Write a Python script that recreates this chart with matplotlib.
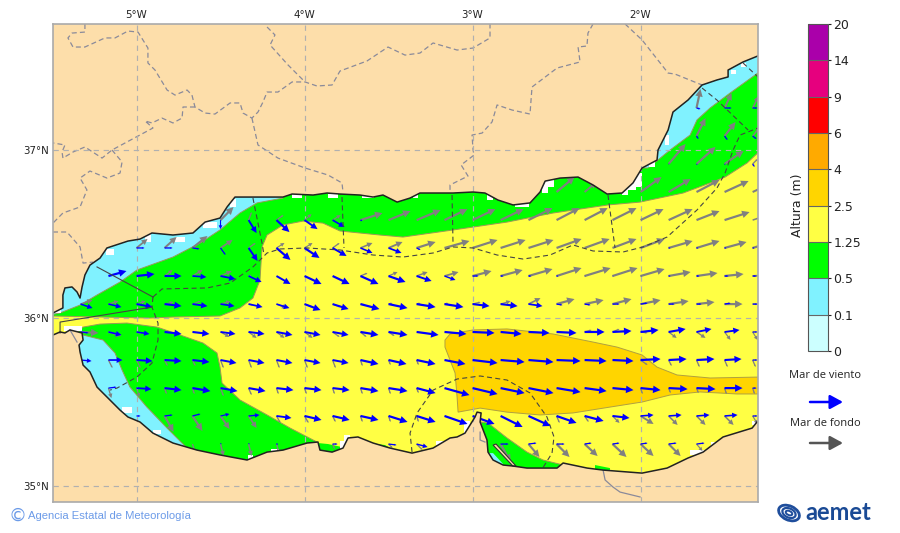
import numpy as np
import matplotlib
matplotlib.use("Agg")
import matplotlib.pyplot as plt
from matplotlib.colors import ListedColormap, BoundaryNorm
from matplotlib.cm import ScalarMappable
from matplotlib.patches import Polygon, Rectangle, Ellipse

n = float("nan")

# colour scale
height_levels = [0, 0.1, 0.5, 1.25, 2.5, 4, 6, 9, 14, 20]
height_labels = ["0", "0.1", "0.5", "1.25", "2.5", "4", "6", "9", "14", "20"]
height_colors = ["#CCFFFF", "#80F2FF", "#00FF00", "#FFFF44", "#FFD500",
                 "#FFAA00", "#FF0000", "#E6007E", "#AA00AA"]

# sea outline, lon/lat
coast_lon = [-5.497, -5.438, -5.438, -5.426, -5.384, -5.354, -5.336, -5.324, -5.307, -5.277, -5.217, -5.176, -5.051,
             -4.979, -4.908, -4.783, -4.664, -4.592, -4.503, -4.461, -4.414, -4.307, -4.128, -4.074, -3.949, -3.866,
             -3.789, -3.670, -3.592, -3.533, -3.449, -3.372, -3.313, -3.194, -3.116, -2.997, -2.926, -2.848, -2.759,
             -2.658, -2.598, -2.568, -2.479, -2.372, -2.283, -2.199, -2.110, -2.045, -1.991, -1.902, -1.896, -1.836,
             -1.807, -1.717, -1.634, -1.545, -1.479, -1.479, -1.390, -1.301, -1.259, -1.259, -1.307, -1.336, -1.509,
             -1.628, -1.717, -1.842, -1.991, -2.223, -2.318, -2.461, -2.497, -2.676, -2.759, -2.818, -2.878, -2.908,
             -2.914, -2.955, -2.949, -2.973, -2.985, -3.045, -3.092, -3.134, -3.235, -3.360, -3.491, -3.592, -3.682,
             -3.741, -3.771, -3.836, -3.908, -3.920, -3.985, -4.128, -4.223, -4.342, -4.503, -4.640, -4.783, -4.902,
             -4.979, -5.051, -5.098, -5.170, -5.235, -5.277, -5.318, -5.336, -5.342, -5.318, -5.324, -5.396, -5.426,
             -5.455, -5.497, -5.545, -5.545]
coast_lat = [36.030, 36.060, 36.137, 36.179, 36.185, 36.155, 36.119, 36.185, 36.256, 36.315, 36.357, 36.417, 36.458,
             36.470, 36.506, 36.494, 36.506, 36.571, 36.595, 36.661, 36.720, 36.720, 36.720, 36.738, 36.732, 36.744,
             36.738, 36.732, 36.720, 36.732, 36.690, 36.714, 36.744, 36.744, 36.744, 36.750, 36.744, 36.702, 36.673,
             36.685, 36.750, 36.815, 36.833, 36.839, 36.792, 36.738, 36.744, 36.804, 36.893, 36.940, 37.000, 37.119,
             37.226, 37.298, 37.387, 37.417, 37.435, 37.476, 37.524, 37.560, 37.560, 35.381, 35.381, 35.345, 35.292,
             35.202, 35.167, 35.107, 35.077, 35.095, 35.107, 35.137, 35.107, 35.107, 35.119, 35.125, 35.155, 35.202,
             35.274, 35.381, 35.435, 35.440, 35.411, 35.315, 35.292, 35.286, 35.226, 35.196, 35.226, 35.256, 35.292,
             35.286, 35.226, 35.202, 35.214, 35.262, 35.256, 35.214, 35.202, 35.155, 35.185, 35.214, 35.256, 35.315,
             35.381, 35.411, 35.452, 35.524, 35.589, 35.679, 35.720, 35.798, 35.839, 35.869, 35.911, 35.929, 35.911,
             35.917, 35.899, 35.899, 36.030]

# wave height zones, lon/lat
green_north_lon = [-5.497, -4.920, -4.783, -4.503, -4.384, -4.307, -4.265, -4.253, -4.223, -4.128, -4.009, -3.890,
                   -3.789, -3.551, -3.414, -3.116, -2.795, -2.521, -2.194, -2.003, -1.747, -1.586, -1.497, -1.366,
                   -1.271, -1.259, -5.545, -5.545]
green_north_lat = [36.012, 36.000, 36.006, 36.012, 36.060, 36.119, 36.226, 36.423, 36.494, 36.554, 36.577, 36.565,
                   36.518, 36.494, 36.482, 36.524, 36.571, 36.625, 36.673, 36.690, 36.744, 36.804, 36.839, 36.923,
                   37.012, 37.750, 37.750, 36.012]
green_south_lon = [-5.318, -5.217, -5.057, -4.878, -4.741, -4.604, -4.521, -4.503, -4.491, -4.384, -4.223, -4.086,
                   -3.926, -3.848, -5.396, -5.396]
green_south_lat = [35.946, 35.964, 35.970, 35.946, 35.899, 35.851, 35.792, 35.708, 35.613, 35.512, 35.423, 35.345,
                   35.262, 35.095, 35.095, 35.869]
green_chica_lon = [-2.949, -2.908, -2.795, -2.676, -2.581, -2.461, -2.390, -2.598, -2.777, -2.926, -2.938]
green_chica_lat = [35.381, 35.375, 35.286, 35.202, 35.155, 35.125, 35.095, 35.065, 35.095, 35.185, 35.304]
green_bit1_lon = [-3.920, -3.860, -3.777, -3.759, -3.920]
green_bit1_lat = [35.256, 35.250, 35.232, 35.185, 35.185]
green_bit2_lon = [-3.610, -3.521, -3.449, -3.610]
green_bit2_lat = [35.256, 35.244, 35.202, 35.202]
green_bit3_lon = [-2.271, -2.182, -2.182, -2.271]
green_bit3_lat = [35.125, 35.107, 35.065, 35.065]
cyan_nw_lon = [-5.545, -5.455, -5.336, -5.235, -5.098, -4.997, -4.783, -4.622, -4.503, -4.384, -4.283, -4.128,
               -4.128, -5.545]
cyan_nw_lat = [36.012, 36.030, 36.077, 36.137, 36.214, 36.286, 36.363, 36.446, 36.524, 36.625, 36.685, 36.714,
               37.000, 37.000]
cyan_ne_lon = [-2.003, -1.955, -1.824, -1.705, -1.664, -1.586, -1.467, -1.277, -1.259, -2.003]
cyan_ne_lat = [36.893, 36.893, 37.000, 37.089, 37.179, 37.250, 37.339, 37.476, 37.714, 37.714]
cyan_sw_lon = [-5.396, -5.318, -5.199, -5.128, -5.086, -5.039, -4.938, -4.818, -4.699, -4.622, -5.455, -5.455]
cyan_sw_lat = [35.899, 35.899, 35.869, 35.792, 35.691, 35.589, 35.470, 35.345, 35.226, 35.095, 35.095, 35.881]
cyan_chica_lon = [-2.908, -2.878, -2.818, -2.854, -2.896]
cyan_chica_lat = [35.196, 35.196, 35.131, 35.119, 35.155]
gold_lon = [-3.164, -3.134, -2.997, -2.795, -2.521, -2.283, -2.140, -1.991, -1.902, -1.783, -1.586, -1.277, -1.277,
            -1.426, -1.646, -1.824, -1.991, -2.182, -2.402, -2.598, -2.795, -2.955, -3.086, -3.092, -3.104, -3.134,
            -3.164]
gold_lat = [35.869, 35.905, 35.929, 35.935, 35.905, 35.857, 35.827, 35.780, 35.708, 35.661, 35.643, 35.649, 35.548,
            35.548, 35.560, 35.542, 35.500, 35.470, 35.435, 35.423, 35.440, 35.464, 35.440, 35.530, 35.673, 35.750,
            35.827]
lagoon_lon = [-2.878, -2.860, -2.741, -2.760]
lagoon_lat = [35.244, 35.250, 35.119, 35.119]

# no-data cells along the coast
white_lon = [-5.158, -4.932, -4.741, -4.563, -4.426, -4.045, -3.830, -5.057, -4.878, -4.324, -4.176, -5.378, -5.473,
             -3.622, -3.342, -2.896, -2.705, -2.551, -2.568, -2.062, -2.092, -2.021, -1.932, -1.842, -1.449, -1.390,
             -3.747, -3.771, -3.194, -3.033, -1.664, -1.319, -1.568]
white_lat = [36.393, 36.476, 36.470, 36.554, 36.685, 36.726, 36.726, 35.452, 35.321, 35.173, 35.209, 35.940, 36.036,
             36.726, 36.726, 36.726, 36.673, 36.804, 36.762, 36.792, 36.750, 36.821, 36.911, 37.060, 37.464, 37.506,
             35.286, 35.244, 35.256, 35.351, 35.202, 35.375, 35.256]
white_w = [.048, .036, .060, .083, .036, .060, .060, .060, .048, .030, .048, .107, .048, .071, .030, .036, .083, .071,
           .036, .071, .036, .060, .030, .024, .030, .030, .036, .036, .048, .036, .083, .036, .024]
white_h = [.030, .048, .030, .036, .048, .024, .024, .036, .024, .024, .018, .030, .018, .024, .024, .042, .024, .048,
           .030, .060, .030, .083, .030, .060, .024, .024, .036, .048, .024, .071, .030, .024, .018]

# forecast zone limits
zone_dashed = [
    ([-4.902, -4.848, -4.580, -4.443, -4.307, -4.223, -4.146, -3.985, -3.789, -3.592, -3.414, -3.235, -3.116, -2.997,
      -2.854, -2.699, -2.539, -2.402, -2.283, -2.104, -1.985, -1.842, -1.664, -1.545, -1.497, -1.449, -1.408, -1.301],
     [36.125, 36.173, 36.179, 36.208, 36.304, 36.387, 36.411, 36.417, 36.405, 36.375, 36.363, 36.387, 36.423, 36.417,
      36.375, 36.351, 36.375, 36.435, 36.399, 36.393, 36.423, 36.482, 36.643, 36.774, 36.863, 37.000, 37.089, 37.131]),
    ([-4.902, -4.908, -4.872, -4.872, -4.908, -4.997, -5.116, -5.158],
     [36.125, 36.065, 35.970, 35.869, 35.732, 35.649, 35.583, 35.571]),
    ([-3.360, -3.372, -3.330, -3.235, -3.092, -2.955, -2.795, -2.658, -2.557, -2.515, -2.527, -2.586],
     [35.202, 35.315, 35.435, 35.571, 35.637, 35.655, 35.631, 35.554, 35.411, 35.292, 35.196, 35.101]),
    ([-4.307, -4.253, -4.241], [36.714, 36.446, 36.375]),
    ([-3.777, -3.765], [36.720, 36.417]),
    ([-3.122, -3.116], [36.732, 36.434]),
    ([-2.194, -2.152], [36.732, 36.417]),
    ([-1.634, -1.545, -1.360], [37.369, 37.297, 37.119]),
    ([-1.390, -1.295], [37.518, 37.429]),
]
zone_solid = [
    ([-5.235, -4.902], [36.304, 36.125]),
    ([-4.908, -5.455, -5.455], [36.065, 35.976, 35.911]),
]

# province limits on land
land_dashed = [
    ([-5.307, -5.307, -5.384, -5.408, -5.378, -5.307, -5.188, -5.128, -5.051, -4.991, -4.932, -4.932, -4.890, -4.818,
      -4.771, -4.699, -4.670, -4.652, -4.592, -4.533, -4.443, -4.384, -4.366, -4.313, -4.277, -4.247, -4.223, -4.158,
      -4.074, -3.997, -3.926, -3.836, -3.789, -3.628, -3.503, -3.402, -3.313, -3.235, -3.092, -2.997, -2.896, -2.896],
     [37.750, 37.702, 37.696, 37.667, 37.613, 37.613, 37.667, 37.667, 37.708, 37.702, 37.607, 37.518, 37.476, 37.357,
      37.327, 37.357, 37.327, 37.256, 37.220, 37.214, 37.280, 37.280, 37.220, 37.190, 37.226, 37.286, 37.345, 37.345,
      37.405, 37.405, 37.381, 37.387, 37.470, 37.530, 37.613, 37.565, 37.577, 37.637, 37.595, 37.607, 37.667, 37.750]),
    ([-4.652, -4.723, -4.729, -4.783, -4.848, -4.908, -4.949, -4.902, -5.146, -5.205, -5.307, -5.378, -5.438, -5.443,
      -5.426, -5.497],
     [37.256, 37.256, 37.190, 37.161, 37.190, 37.161, 37.173, 37.131, 37.000, 36.952, 37.018, 36.988, 36.952, 36.988,
      37.030, 37.042]),
    ([-5.146, -5.086, -5.098, -5.176, -5.277, -5.336, -5.295, -5.336, -5.438, -5.497],
     [37.000, 36.929, 36.863, 36.833, 36.875, 36.833, 36.762, 36.661, 36.625, 36.565]),
    ([-5.497, -5.414, -5.336, -5.318, -5.259], [36.512, 36.512, 36.423, 36.327, 36.333]),
    ([-4.313, -4.277, -4.158, -3.997, -3.860, -3.777, -3.771],
     [37.190, 37.030, 36.952, 36.893, 36.851, 36.804, 36.750]),
    ([-4.223, -4.176, -4.205, -4.098, -3.997], [37.732, 37.685, 37.625, 37.506, 37.405]),
    ([-2.283, -2.313, -2.319, -2.372, -2.360, -2.497, -2.646, -2.658, -2.765, -2.854, -2.884, -2.943, -3.003, -2.997,
      -2.991, -3.068, -3.027, -3.134, -3.134],
     [37.750, 37.696, 37.619, 37.613, 37.524, 37.488, 37.375, 37.214, 37.238, 37.268, 37.167, 37.101, 37.089, 37.000,
      36.970, 36.911, 36.845, 36.792, 36.762]),
    ([-2.092, -1.991, -1.836, -1.795, -1.634], [37.750, 37.655, 37.458, 37.452, 37.387]),
]
land_solid = [
    ([-2.223, -2.211, -2.164, -2.122, -2.003], [35.095, 35.036, 34.994, 34.964, 34.935]),
    ([-5.396, -5.354], [35.929, 35.857]),
    ([-2.955, -2.955, -2.926], [35.321, 35.274, 35.262]),
]

# wave vectors on the 1/6 degree grid
arrow_lons = [-5.333, -5.167, -5.0, -4.833, -4.667, -4.5, -4.333, -4.167, -4.0, -3.833, -3.667, -3.5, -3.333,
              -3.167, -3.0, -2.833, -2.667, -2.5, -2.333, -2.167, -2.0, -1.833, -1.667, -1.5, -1.333]
arrow_lats = [37.25, 37.083, 36.917, 36.75, 36.583, 36.417, 36.25, 36.083, 35.917, 35.75, 35.583, 35.417, 35.25]

wind_u = [
    [n]*22 + [4, 7, 5],
    [n]*22 + [2, 3, 4],
    [n]*21 + [1, 1, 1, 2],
    [n]*25,
    [n]*5 + [0, 8, 13, 13, 12, 2] + [n]*14,
    [n, n, 8, 8, 7, 5, 9, 14, 15, 14, 12, 13, 4] + [n]*8 + [2, 2, 2, 2],
    [5, 18, 18, 17, 14, 15, 13, 14, 17, 17, 18, 17, 15, 11, 6, 3, 3, 2, 1, 1, 1, 2, 3, 4, 4],
    [12, 13, 16, 17, 15, 14, 14, 13, 16, 16, 19, 19, 19, 19, 17, 17, 14, 6, 6, 7, 7, 6, 5, 6, 5],
    [8, 13, 13, 17, 17, 15, 16, 16, 16, 16, 18, 19, 22, 22, 22, 21, 21, 20, 20, 19, 18, 17, 15, 15, 5],
    [11, 14, 16, 17, 17, 16, 16, 16, 16, 16, 18, 18, 19, 21, 25, 24, 25, 24, 22, 21, 20, 18, 18, 17, 5],
    [n, 8, 15, 17, 18, 17, 17, 17, 17, 17, 18, 19, 19, 25, 25, 24, 25, 24, 22, 21, 20, 19, 19, 18, 4],
    [n, n, 4, 8, 8, 9, 11, 15, 17, 17, 18, 19, 19, 23, 22, 22, 22, 20, 19, 17, 13, 13, 13, 13, 5],
    [n, n, n, n, n, 1, 1, 2, n, 5, n, 8, 11, n, n, 8, 8, 8, 7, 7, 7, 8, 8, n, n],
]
wind_v = [
    [n]*22 + [-1, 0, 0],
    [n]*22 + [-3, -4, -3],
    [n]*21 + [0, -1, -1, -3],
    [n]*25,
    [n]*5 + [-9, -13, -12, -9, -7, -1] + [n]*14,
    [n, n, 0, 0, -1, -7, -13, -12, -10, -8, -5, -5, -2] + [n]*8 + [0, 0, 0, 0],
    [2, 5, 2, 0, -1, -3, -6, -8, -8, -8, -8, -6, -5, -4, 0, 0, 0, 0, 0, 0, 0, 0, 0, 0, 0],
    [-4, -3, -3, -2, -2, -2, -3, -4, -6, -5, -5, -4, -3, -3, -2, -2, -2, -1, -1, 0, 1, 0, 0, 1, 0],
    [-1, -3, -2, -2, -2, -2, -2, -3, -3, -3, -3, -3, -3, -2, -1, -2, -1, -1, 0, 1, 2, 3, 3, 2, 0],
    [-1, 0, -1, -1, -2, -3, -3, -3, -3, -3, -4, -4, -4, -4, -3, -2, -2, -1, -1, -1, 1, 1, 1, 1, 0],
    [n, 1, -1, -2, -3, -3, -3, -2, -2, -2, -3, -3, -5, -7, -6, -5, -5, -4, -3, -2, -2, -1, -1, 0, 0],
    [n, n, 0, 1, 2, 2, 1, -2, -4, -4, -4, -6, -6, -8, -8, -11, -10, -7, -5, -2, 1, 1, 1, 1, 0],
    [n, n, n, n, n, 1, 1, 0, n, 0, n, -1, -3, n, n, 0, 1, 0, 1, 1, 1, 1, 1, n, n],
]
swell_u = [
    [n]*22 + [4, 7, 6],
    [n]*22 + [9, 11, 8],
    [n]*21 + [17, 19, 19, 5],
    [n]*17 + [18, 12, n, 21, 22, 23, 24, 15],
    [n]*5 + [13, 3, 7, 7, 8, 22, 22, 24, 23, 23, 23, 24, 23, 23, 24, 23, 24, 23, 25, 12],
    [n, n, 11, 12, 15, 12, 7, 8, 8, 7, 12, 14, 19, 25, 25, 25, 25, 25, 25, 24, 24, 24, 23, 22, 20],
    [n, n, n, 8, 10, 11, 3, n, n, n, 7, 9, 11, 14, 19, 22, 24, 25, 26, 25, 24, 22, 21, 19, 15],
    [12, 10, 9, 9, 8, 10, 5, 10, 8, 8, 5, 4, 4, 4, 8, 10, 12, 18, 19, 19, 20, 20, 18, 18, 8],
    [18, 13, 5, n, n, 9, 8, 8, 8, 7, 6, 6, n, n, n, n, n, n, 7, 7, 7, 8, 9, 6, 5],
    [n, 4, 4, 3, 3, 3, 3, 3, 3, 3, 2, 2, 2, n, n, n, n, n, n, n, 7, 3, 3, 3, 3],
    [n, 3, 3, 2, 2, 3, 3, 2, 2, 2, 2, 2, 2, n, n, n, n, n, n, n, 2, 2, 2, 2, 2],
    [n, n, n, 9, 10, 9, 8, 4, 4, 3, 2, 2, 2, n, n, n, n, 3, 4, 7, 13, 9, 9, 9, 5],
    [n, n, n, n, 2, 3, 3, 2, n, 2, n, 4, 6, n, n, 10, 11, 13, 13, 14, 13, 12, 6, n, n],
]
swell_v = [
    [n]*22 + [19, 15, 12],
    [n]*22 + [18, 14, 10],
    [n]*21 + [20, 17, 13, 5],
    [n]*17 + [15, 10, n, 15, 13, 12, 11, 7],
    [n]*5 + [13, 8, 5, 6, 5, 7, 9, 10, 11, 11, 11, 12, 12, 12, 12, 11, 11, 9, 8, 4],
    [n, n, 9, 11, 12, 8, 5, 5, 5, 5, 5, 6, 6, 7, 8, 8, 8, 9, 9, 9, 9, 7, 7, 6, 6],
    [n, n, n, 6, 6, 5, 1, n, n, n, 3, 4, 4, 4, 5, 6, 7, 8, 8, 8, 7, 4, 3, 2, 1],
    [4, 3, 3, 2, 3, 3, -1, -4, -3, -3, -1, 1, 1, 1, 2, 3, 6, 5, 4, 5, 4, 3, 2, 0, 0],
    [-1, -4, -2, n, n, -5, -6, -6, -6, -5, -5, -4, n, n, n, n, n, n, 2, 3, -1, -6, -6, -8, -8],
    [n, -8, -8, -6, -6, -8, -8, -8, -8, -8, -6, -5, -5, n, n, n, n, n, n, n, -5, -6, -7, -7, -7],
    [n, -10, -9, -6, -6, -8, -7, -6, -6, -6, -6, -6, -5, n, n, n, n, n, n, n, -6, -5, -5, -6, -6],
    [n, n, n, -16, -15, -13, -12, -7, -7, -6, -6, -6, -6, n, n, n, n, -7, -6, -7, -8, -9, -9, -9, -8],
    [n, n, n, n, -6, -12, -12, -7, n, -5, n, -4, -6, n, n, -18, -13, -13, -12, -13, -12, -12, -7, n, n],
]

LAND = "#FDDEAA"
WIND = "#0000FF"
SWELL = "#808080"

W, H = 900, 533
fig = plt.figure(figsize=(W / 100, H / 100), dpi=100, facecolor="white")
ax = fig.add_axes([53 / W, (H - 502) / H, 705 / W, 478 / H], facecolor=LAND)
ax.set_xlim(-5.497, -1.301)
ax.set_ylim(34.905, 37.75)

# sea and height zones
sea = Polygon(np.column_stack([coast_lon, coast_lat]), closed=True, facecolor="#FFFF44", edgecolor="none", zorder=1)
ax.add_patch(sea)


def zone(lon, lat, color, edge="#9A9A55"):
    p = Polygon(np.column_stack([lon, lat]), closed=True, facecolor=color, edgecolor=edge, lw=0.7, zorder=1.1)
    ax.add_patch(p)
    p.set_clip_path(sea)


zone(green_north_lon, green_north_lat, "#00FF00")
zone(green_south_lon, green_south_lat, "#00FF00")
zone(green_chica_lon, green_chica_lat, "#00FF00")
zone(green_bit1_lon, green_bit1_lat, "#00FF00", "none")
zone(green_bit2_lon, green_bit2_lat, "#00FF00", "none")
zone(green_bit3_lon, green_bit3_lat, "#00FF00", "none")
zone(cyan_nw_lon, cyan_nw_lat, "#80F2FF")
zone(cyan_ne_lon, cyan_ne_lat, "#80F2FF")
zone(cyan_sw_lon, cyan_sw_lat, "#80F2FF")
zone(cyan_chica_lon, cyan_chica_lat, "#80F2FF", "none")
zone(gold_lon, gold_lat, "#FFD500", "#B0A040")

for x, y, w, h in zip(white_lon, white_lat, white_w, white_h):
    r = Rectangle((x - w / 2, y - h / 2), w, h, facecolor="white", edgecolor="none", zorder=1.2)
    ax.add_patch(r)
    r.set_clip_path(sea)

# graticule
ax.set_xticks([-5, -4, -3, -2])
ax.set_xticklabels(["5°W", "4°W", "3°W", "2°W"])
ax.set_yticks([35, 36, 37])
ax.set_yticklabels(["35°N", "36°N", "37°N"])
ax.xaxis.tick_top()
ax.tick_params(length=0, labelsize=7.4, pad=3, colors="#222222")
ax.grid(True, color="#B0B0B0", lw=0.85, linestyle=(0, (4.5, 4)))
ax.set_axisbelow(False)
for s in ax.spines.values():
    s.set_color("#AAAAAA")
    s.set_linewidth(1.2)
    s.set_zorder(6)

# wave arrows, clipped at the coast; head grows with the arrow, short ones are plain strokes
X, Y = np.meshgrid(arrow_lons, arrow_lats)
for u, v, color in [(swell_u, swell_v, SWELL), (wind_u, wind_v, WIND)]:
    u, v = np.array(u, float), np.array(v, float)
    size = np.hypot(u, v)
    short = size < 9
    long_ = size >= 9
    q = ax.quiver(X[long_], Y[long_], u[long_], v[long_], color=color, angles="xy", scale_units="xy", scale=168,
                  units="dots", width=2.2, headwidth=3.4, headlength=3.4, headaxislength=3.4, minshaft=2.4, zorder=3)
    q.set_clip_path(sea)
    q = ax.quiver(X[short], Y[short], u[short], v[short], color=color, angles="xy", scale_units="xy", scale=168,
                  units="dots", width=1.3, headwidth=1.6, headlength=1.6, headaxislength=1.6, minlength=0, zorder=3)
    q.set_clip_path(sea)

# limits and coastline
for lon, lat in land_dashed:
    ax.plot(lon, lat, color="#8A8A9A", lw=0.9, linestyle=(0, (4, 2.5)), zorder=2)
for lon, lat in land_solid:
    ax.plot(lon, lat, color="#8A8A9A", lw=0.9, zorder=2)
for lon, lat in zone_dashed:
    ax.plot(lon, lat, color="#444444", lw=0.8, linestyle=(0, (4.5, 3)), zorder=4)
for lon, lat in zone_solid:
    ax.plot(lon, lat, color="#444444", lw=0.8, zorder=4)

ax.add_patch(Polygon(np.column_stack([lagoon_lon, lagoon_lat]), closed=True, facecolor=LAND,
                     edgecolor="#333333", lw=0.8, zorder=4))
ax.plot(coast_lon[:60], coast_lat[:60], color="#222222", lw=1.1, zorder=5)
ax.plot(coast_lon[62:119], coast_lat[62:119], color="#222222", lw=1.1, zorder=5)

# colour bar
cax = fig.add_axes([808 / W, (H - 351) / H, 20 / W, 327 / H])
cmap = ListedColormap(height_colors)
norm = BoundaryNorm(height_levels, cmap.N)
cb = fig.colorbar(ScalarMappable(norm=norm, cmap=cmap), cax=cax, spacing="uniform", ticks=height_levels,
                  drawedges=True)
cb.ax.set_yticklabels(height_labels)
cb.ax.tick_params(length=2, width=0.8, labelsize=9, pad=2, colors="#222222")
cb.outline.set_edgecolor("#555555")
cb.dividers.set_color("#666666")
cb.dividers.set_linewidth(0.8)
fig.text(798 / W, 1 - 205 / H, "Altura (m)", rotation=90, ha="center", va="center", fontsize=9, color="#222222")

# arrow key
fig.text(825 / W, 1 - 376 / H, "Mar de viento", ha="center", va="center", fontsize=8,
         family="Open Sans", color="#222222")
fig.text(825 / W, 1 - 423 / H, "Mar de fondo", ha="center", va="center", fontsize=8,
         family="Open Sans", color="#222222")
for y, color in [(402, "#0000FF"), (443, "#555555")]:
    fig.add_artist(plt.Annotation("", xy=(843 / W, 1 - y / H), xytext=(810 / W, 1 - y / H),
                                  xycoords="figure fraction", textcoords="figure fraction",
                                  arrowprops=dict(arrowstyle="-|>,head_length=0.55,head_width=0.3", color=color,
                                                  lw=1.8, shrinkA=0, shrinkB=0, mutation_scale=14)))

# footer
fig.text(17.5 / W, 1 - 516 / H, "©", ha="center", va="center", fontsize=13, color="#6C9BE8")
fig.text(28 / W, 1 - 516 / H, "Agencia Estatal de Meteorología", ha="left", va="center", fontsize=8.1,
         family="Liberation Sans", color="#6C9BE8")

# aemet mark
lax = fig.add_axes([777 / W, (H - 524) / H, 24 / W, 22 / H])
lax.set_xlim(0, 24)
lax.set_ylim(0, 22)
lax.axis("off")
for w_, h_, lw_ in [(22, 14, 2.0), (14, 9, 1.6), (7, 4, 1.4)]:
    lax.add_patch(Ellipse((12, 11), w_, h_, angle=-25, facecolor="none", edgecolor="#1F4E9C", lw=lw_))
fig.text(805 / W, 1 - 512 / H, "aemet", ha="left", va="center", fontsize=17, fontweight="bold",
         family="Lato", color="#1A4A95")

fig.savefig("out.png", dpi=100)
